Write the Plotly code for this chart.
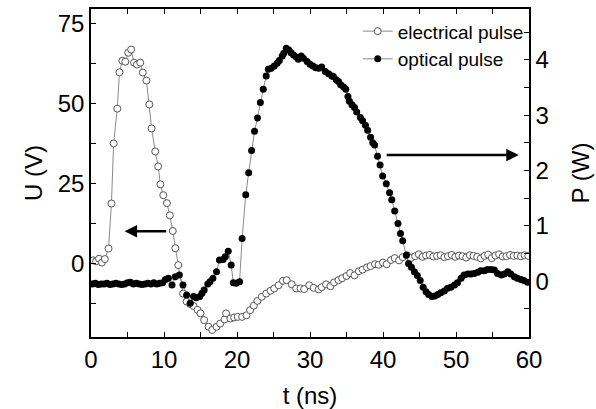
import plotly.graph_objects as go

# ---- electrical pulse (left axis, U in V) ----
t_elec = [0.3, 0.7, 1.1, 1.5, 1.9, 2.4, 2.8, 3.1, 3.6, 3.9, 4.3, 4.7, 5.1, 5.5, 5.9, 6.3, 6.75, 7.1, 7.6, 8.0,
          8.3, 8.8, 9.2, 9.5, 9.9, 10.4, 10.8, 11.2, 11.55, 11.95, 12.6, 13.1, 13.6, 14.05, 14.6, 15.0, 15.5,
          16.1, 16.6, 17.2, 17.7, 18.3, 18.5, 19.1, 19.6, 20.1, 20.7, 21.3, 21.8, 22.3, 22.8, 23.4, 24.0, 24.6, 25.1,
          25.7, 26.3, 26.8, 27.5, 28.1, 28.7, 29.2, 29.9, 30.5, 31.2, 31.6, 32.2, 32.8, 33.3, 33.9, 34.4, 35.0,
          35.5, 36.1, 36.7, 37.2, 37.8, 38.3, 38.9, 39.4, 40.0, 40.5, 41.1, 41.6, 42.2, 42.7, 43.3, 43.8, 44.4,
          44.9, 45.4, 45.9, 46.4, 46.9, 47.4, 47.9, 48.4, 48.9, 49.4, 49.9, 50.4, 50.9, 51.4, 51.9, 52.4, 52.9,
          53.4, 53.9, 54.4, 54.9, 55.4, 55.9, 56.4, 56.9, 57.4, 57.9, 58.4, 58.9, 59.4, 59.9]
u_elec = [0.9, 0.6, 1.4, 0.2, 1.3, 4.6, 18.7, 37.5, 48.4, 59.8, 63.4, 63.1, 65.9, 66.9, 62.8, 62.2, 62.8, 59.7, 57.2, 49.7,
          42.2, 35.0, 30.3, 24.7, 21.3, 18.8, 15.0, 10.1, 4.7, -0.6, -9.5, -12.0, -12.8, -13.4, -14.6, -15.7, -17.8,
          -19.9, -20.9, -19.9, -18.9, -17.6, -15.7, -17.3, -17.0, -16.8, -16.8, -16.3, -14.7, -13.3, -11.8, -10.5, -9.5, -8.6, -7.9,
          -6.9, -5.5, -5.3, -6.6, -7.9, -7.9, -8.1, -6.9, -7.7, -8.2, -7.5, -6.6, -7.2, -6.0, -5.3, -4.7, -4.0,
          -3.1, -3.8, -2.5, -2.0, -1.3, -0.9, -0.3, -0.5, 0.2, -0.3, 1.0, 1.6, 0.9, 1.9, 2.5, 1.6, 2.2,
          2.8, 2.0, 2.4, 2.6, 2.1, 2.3, 2.5, 1.9, 2.2, 2.6, 2.0, 2.4, 2.2, 1.8, 2.5, 2.3, 2.0,
          1.5, 2.3, 2.7, 1.6, 2.4, 2.8, 2.1, 2.2, 2.6, 2.3, 2.4, 2.2, 2.5, 2.3]

# ---- optical pulse (right axis, P in W) ----
t_opt = [0.2, 0.6, 1.0, 1.4, 1.8, 2.2, 2.6, 3.0, 3.4, 3.8, 4.2, 4.6, 5.0, 5.4, 5.8, 6.2, 6.6, 7.0, 7.4, 7.8,
         8.2, 8.6, 9.0, 9.4, 9.8, 10.2, 10.6, 11.1, 11.55, 12.1, 12.6, 13.1, 13.6, 14.05, 14.4, 14.9, 15.2,
         15.5, 16.0, 16.3, 16.7, 17.2, 17.6, 18.1, 18.4, 18.8, 19.2, 19.5, 19.9, 20.35, 20.7, 21.2, 21.6, 22.0,
         22.4, 22.8, 23.2, 23.6, 24.0, 24.3, 24.7, 25.1, 25.5, 25.8, 26.2, 26.4, 26.75, 27.1, 27.4, 27.75, 28.1,
         28.4, 28.8, 29.1, 29.6, 30.0, 30.4, 30.8, 31.2, 31.6, 32.1, 32.55, 33.0, 33.2, 33.6, 33.9, 34.2, 34.6,
         34.9, 35.2, 35.4, 35.75, 36.1, 36.4, 36.9, 37.2, 37.6, 37.9, 38.3, 38.6, 38.85, 39.25, 39.6, 39.95,
         40.45, 40.9, 41.2, 41.6, 42.05, 42.4, 42.7, 43.2, 43.5, 43.9, 44.3, 44.7, 45.1, 45.5, 45.9, 46.25,
         46.7, 47.1, 47.5, 47.9, 48.4, 48.85, 49.3, 49.8, 50.2, 50.7, 51.1, 51.6, 52.05, 52.5, 53.0, 53.4,
         53.9, 54.3, 54.8, 55.25, 55.7, 56.2, 56.6, 57.1, 57.5, 58.0, 58.4, 58.9, 59.3, 59.8]
p_opt = [-0.05, -0.04, -0.06, -0.05, -0.05, -0.04, -0.06, -0.05, -0.04, -0.05, -0.06, -0.05, -0.03, -0.02, -0.05, -0.04,
         -0.05, -0.06, -0.05, -0.04, -0.05, -0.03, -0.05, -0.04, -0.03, 0.03, 0.05, -0.07, 0.08, 0.11, -0.07, -0.25, -0.40,
         -0.28, -0.30, -0.28, -0.22, -0.16, -0.05, -0.01, 0.05, 0.17, 0.38, 0.39, 0.44, 0.54, 0.29, -0.03, -0.04,
         -0.01, 0.77, 1.56, 1.96, 2.36, 2.71, 2.95, 3.23, 3.47, 3.71, 3.83, 3.85, 3.89, 3.94, 3.99, 4.07, 4.12, 4.21,
         4.18, 4.13, 4.09, 4.05, 4.01, 4.07, 4.03, 3.97, 3.92, 3.89, 3.86, 3.85, 3.87, 3.79, 3.75, 3.71, 3.70, 3.64,
         3.61, 3.55, 3.51, 3.47, 3.34, 3.25, 3.19, 3.14, 3.06, 2.96, 2.90, 2.82, 2.73, 2.60, 2.50, 2.46, 2.26, 2.10,
         1.90, 1.76, 1.60, 1.47, 1.27, 1.04, 0.86, 0.73, 0.47, 0.32, 0.25, 0.17, 0.10, 0.01, -0.11, -0.19, -0.24,
         -0.28, -0.27, -0.24, -0.21, -0.18, -0.13, -0.11, -0.07, -0.03, 0.05, 0.11, 0.13, 0.13, 0.14, 0.16, 0.19,
         0.19, 0.21, 0.21, 0.20, 0.14, 0.11, 0.13, 0.17, 0.13, 0.08, 0.05, 0.03, 0.01, -0.02]

x_ticks = [0, 10, 20, 30, 40, 50, 60]
u_ticks = [0, 25, 50, 75]
p_ticks = [0, 1, 2, 3, 4]

FONT = "Liberation Sans, Arial, sans-serif"

fig = go.Figure()
fig.add_trace(go.Scatter(
    x=t_elec, y=u_elec, name="electrical pulse", mode="lines+markers",
    line=dict(color="#8a8a8a", width=1),
    marker=dict(symbol="circle", size=7, color="white", line=dict(color="#555555", width=1)),
    yaxis="y"))
fig.add_trace(go.Scatter(
    x=t_opt, y=p_opt, name="optical pulse", mode="lines+markers",
    line=dict(color="#8a8a8a", width=1),
    marker=dict(symbol="circle", size=7, color="black", line=dict(width=0)),
    yaxis="y2"))

axis_common = dict(showgrid=False, zeroline=False, showline=True, linecolor="black", linewidth=1.5,
                   ticks="inside", ticklen=5, tickwidth=1.2, tickcolor="black", automargin=False,
                   tickfont=dict(family=FONT, size=24, color="black"))

fig.update_layout(
    width=596, height=409,
    margin=dict(l=91, r=67, t=9, b=72),
    paper_bgcolor="white", plot_bgcolor="white",
    font=dict(family=FONT, color="black"),
    showlegend=True,
    legend=dict(x=0.609, y=0.99, xanchor="left", yanchor="top", bgcolor="rgba(0,0,0,0)",
                font=dict(family=FONT, size=19, color="black"), tracegroupgap=0),
    xaxis=dict(range=[0, 60], tickvals=x_ticks, mirror="allticks",
               minor=dict(dtick=5, ticks="inside", ticklen=5, tickcolor="black"),
               title=dict(text="t (ns)", font=dict(family=FONT, size=24, color="black"), standoff=16),
               **axis_common),
    yaxis=dict(range=[-23.1, 79.6], tickvals=u_ticks,
               minor=dict(dtick=12.5, tick0=0, ticks="inside", ticklen=5, tickcolor="black"),
               title=dict(text="U (V)", font=dict(family=FONT, size=24, color="black"), standoff=8),
               **axis_common),
    yaxis2=dict(range=[-1.01, 4.92], tickvals=p_ticks, overlaying="y", side="right",
                minor=dict(dtick=0.5, tick0=0, ticks="inside", ticklen=5, tickcolor="black"),
                title=dict(text="P (W)", font=dict(family=FONT, size=24, color="black"), standoff=24),
                **axis_common),
)

fig.add_annotation(x=4.6, y=10, ax=10.5, ay=10, xref="x", yref="y", axref="x", ayref="y",
                   text="", showarrow=True, arrowhead=2, arrowsize=1, arrowwidth=2.5, arrowcolor="black")
fig.add_annotation(x=58.6, y=2.28, ax=40.3, ay=2.28, xref="x", yref="y2", axref="x", ayref="y2",
                   text="", showarrow=True, arrowhead=2, arrowsize=1, arrowwidth=2.5, arrowcolor="black")

fig.write_html("out.html")
